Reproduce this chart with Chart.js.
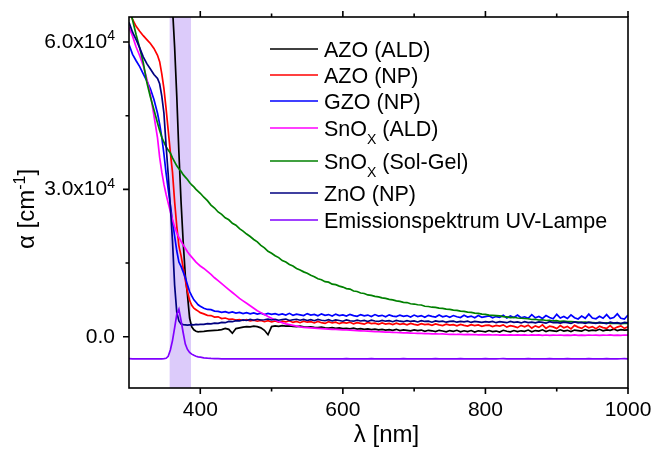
<!DOCTYPE html>
<html>
<head>
<meta charset="utf-8">
<title>Absorptionskoeffizient</title>
<script src="https://cdn.jsdelivr.net/npm/chart.js@4.4.1/dist/chart.umd.min.js"></script>
<style>
  html, body { margin: 0; padding: 0; background: #fff; }
  canvas { display: block; }
</style>
</head>
<body>
<canvas id="chart" width="653" height="453"></canvas>
<script>
// wavelength grid in nm (finer around the absorption edge)
const wl = [
  300, 305, 310, 315, 320, 325, 330, 335, 340,
  343, 346, 349, 352, 355, 358, 361, 364, 367, 370,
  373, 376, 379, 382, 385, 388, 391, 394, 397, 400,
  405, 410, 415, 420, 425, 430, 435, 440, 445, 450,
  455, 460, 465, 470, 475, 480, 485, 490, 495, 500,
  505, 510, 515, 520, 525, 530, 535, 540, 545, 550,
  555, 560, 565, 570, 575, 580, 585, 590, 595, 600,
  605, 610, 615, 620, 625, 630, 635, 640, 645, 650,
  655, 660, 665, 670, 675, 680, 685, 690, 695, 700,
  705, 710, 715, 720, 725, 730, 735, 740, 745, 750,
  755, 760, 765, 770, 775, 780, 785, 790, 795, 800,
  805, 810, 815, 820, 825, 830, 835, 840, 845, 850,
  855, 860, 865, 870, 875, 880, 885, 890, 895, 900,
  905, 910, 915, 920, 925, 930, 935, 940, 945, 950,
  955, 960, 965, 970, 975, 980, 985, 990, 995, 1000
];

// absorption coefficient alpha in cm^-1
const azoAld = [
  95000, 95000, 94000, 94000, 93000, 93000, 92000, 92000, 91000,
  90000, 88000, 86000, 84000, 80500, 75000, 67000, 59000, 49000, 37500,
  27500, 19300, 12500, 8500, 3800, 2000, 1400, 1100, 1000, 1050,
  1100, 1200, 1250, 1300, 1350, 1450, 1700, 1500, 700, 1650,
  1800, 1950, 2050, 2000, 2150, 2050, 1800, 1300, 400, 2050,
  2200, 2100, 2250, 2150, 2200, 2100, 2050, 2150, 2000, 1950,
  2000, 1900, 1850, 1950, 1800, 1750, 1850, 1700, 1800, 1650,
  1700, 1600, 1750, 1550, 1650, 1500, 1600, 1450, 1550, 1400,
  1500, 1350, 1450, 1300, 1500, 1250, 1400, 1300, 1200, 1400,
  1250, 1350, 1100, 1300, 1200, 1050, 1300, 1150, 1000, 1250,
  1100, 1300, 1000, 1200, 1050, 1250, 950, 1200, 1100, 1000,
  1250, 1050, 1150, 950, 1300, 1100, 1000, 1250, 1050, 1200,
  1100, 1350, 1000, 1250, 1150, 1400, 1050, 1300, 1200, 1100,
  1400, 1150, 1300, 1050, 1350, 1250, 1150, 1450, 1200, 1350,
  1250, 1500, 1200, 1400, 1300, 1550, 1250, 1450, 1350, 1400
];

const azoNp = [
  66500, 64600, 63200, 62200, 61300, 60500, 59700, 58700, 57300,
  56000, 53500, 50500, 46500, 42000, 37500, 33500, 27500, 22500, 18500,
  16500, 14000, 11500, 9200, 7400, 6400, 5800, 5500, 5200, 4900,
  4650, 4350, 4300, 4000, 4050, 3700, 3800, 3550, 3600, 3400,
  3500, 3300, 3450, 3200, 3350, 3150, 3300, 3050, 3250, 3000,
  3200, 2950, 3150, 3000, 3250, 2900, 3100, 2850, 3150, 2950,
  3050, 2800, 3100, 2850, 2700, 3050, 2800, 2950, 2650, 2900,
  2750, 2950, 2600, 2850, 2700, 2550, 2900, 2650, 2750, 2500,
  2800, 2550, 2700, 2450, 2750, 2500, 2650, 2400, 2700, 2500,
  2350, 2650, 2450, 2550, 2300, 2600, 2400, 2250, 2550, 2350,
  2450, 2200, 2500, 2300, 2150, 2450, 2250, 2400, 2100, 2300,
  2350, 2050, 2300, 2150, 2400, 1950, 2250, 2100, 1850, 2300,
  2000, 2350, 1750, 2200, 1900, 2400, 1700, 2150, 2000, 1650,
  2250, 1800, 2100, 1600, 2300, 1950, 1700, 2200, 1800, 2050,
  1600, 2150, 1850, 1700, 2250, 1600, 1950, 2200, 1700, 2000
];

const gzoNp = [
  59500, 57500, 56200, 55000, 53500, 52100, 50500, 48300, 45500,
  43300, 40600, 37200, 33300, 30000, 26800, 23500, 20500, 17500, 15200,
  14300, 13200, 12000, 10600, 9200, 8300, 7500, 7000, 6500, 6200,
  5800, 5550, 5500, 5200, 5150, 4950, 5100, 4850, 5050, 4800,
  4950, 4700, 4900, 4650, 4850, 4600, 4800, 4500, 4750, 4550,
  4700, 4450, 4650, 4400, 4750, 4350, 4600, 4450, 4300, 4700,
  4400, 4550, 4250, 4650, 4350, 4500, 4200, 4600, 4300, 4450,
  4200, 4550, 4300, 4150, 4500, 4250, 4400, 4100, 4500, 4200,
  4350, 4050, 4450, 4200, 4100, 4400, 4150, 4300, 4000, 4400,
  4100, 4300, 3950, 4350, 4150, 4000, 4400, 4050, 4250, 3950,
  4300, 4050, 3900, 4350, 4000, 4200, 3850, 4300, 3950, 4100,
  4250, 3850, 4100, 3950, 4350, 3800, 4200, 3900, 4400, 3850,
  4050, 3750, 4500, 3850, 4100, 3700, 4300, 3900, 3650, 4550,
  3800, 4100, 3700, 4450, 3850, 3600, 4200, 3750, 4600, 3800,
  3650, 4150, 3750, 4500, 3700, 3900, 4650, 3750, 3600, 4400
];

const snoxAld = [
  63000, 61200, 59000, 57200, 55200, 52500, 49400, 45000, 40500,
  36500, 33500, 31000, 29000, 27200, 25500, 23800, 22400, 21200, 20200,
  19400, 18700, 18000, 17300, 16700, 16200, 15700, 15200, 14800, 14400,
  13900, 13300, 12700, 12000, 11400, 10800, 10200, 9600, 9000, 8400,
  7800, 7300, 6800, 6300, 5800, 5300, 4900, 4500, 4100, 3750,
  3400, 3100, 2850, 2600, 2450, 2300, 2150, 2000, 1900, 1850,
  1800, 1750, 1700, 1650, 1600, 1550, 1500, 1470, 1430, 1400,
  1360, 1320, 1280, 1240, 1200, 1160, 1120, 1080, 1040, 1000,
  970, 940, 910, 880, 850, 820, 790, 760, 730, 700,
  670, 690, 630, 640, 590, 600, 550, 570, 500, 480,
  500, 450, 480, 420, 460, 400, 440, 380, 420, 360,
  400, 340, 390, 330, 380, 320, 370, 300, 360, 310,
  370, 290, 350, 300, 360, 280, 340, 270, 330, 290,
  340, 270, 320, 280, 350, 260, 310, 270, 340, 290,
  330, 260, 320, 290, 350, 270, 330, 280, 340, 300
];

const snoxSolGel = [
  67500, 64500, 61500, 58800, 55800, 51800, 48800, 46200, 43500,
  42000, 40600, 39600, 38700, 38000, 37400, 36400, 35600, 34800, 34200,
  33700, 33000, 32500, 32000, 31400, 30900, 30500, 30000, 29600, 29200,
  28400, 27700, 26800, 26200, 25400, 24900, 24200, 23800, 23100, 22700,
  22000, 21500, 20900, 20400, 19800, 19300, 18600, 18100, 17400, 17000,
  16500, 16100, 15500, 15200, 14700, 14400, 13900, 13600, 13200, 12900,
  12500, 12200, 11800, 11600, 11200, 11100, 10700, 10600, 10300, 10100,
  9800, 9700, 9300, 9200, 8900, 8800, 8500, 8400, 8200, 8100,
  7900, 7800, 7600, 7500, 7300, 7200, 7000, 6950, 6700, 6650,
  6500, 6450, 6200, 6150, 6000, 5950, 5800, 5750, 5600, 5550,
  5400, 5350, 5200, 5150, 5000, 4950, 4800, 4750, 4600, 4550,
  4400, 4350, 4300, 4250, 4100, 4050, 3900, 3950, 3800, 3750,
  3700, 3650, 3500, 3550, 3400, 3450, 3300, 3350, 3200, 3250,
  3100, 3150, 3050, 3050, 3000, 2950, 2900, 2950, 2850, 2850,
  2800, 2850, 2750, 2800, 2700, 2750, 2700, 2650, 2700, 2700
];

const znoNp = [
  64000, 62000, 60500, 58800, 57000, 55600, 54500, 53400, 52600,
  51500, 49000, 45500, 39000, 33000, 26500, 19500, 10500, 5000, 3200,
  2600, 2450, 2400, 2350, 2400, 2450, 2400, 2500, 2450, 2500,
  2500, 2650, 2600, 2750, 2700, 2900, 2850, 3100, 3050, 3250,
  3200, 3400, 3300, 3500, 3350, 3550, 3400, 3450, 3600, 3400,
  3550, 3350, 3500, 3600, 3300, 3450, 3550, 3350, 3500, 3300,
  3450, 3250, 3500, 3350, 3250, 3450, 3200, 3400, 3300, 3150,
  3400, 3250, 3150, 3350, 3200, 3300, 3100, 3350, 3200, 3100,
  3300, 3150, 3250, 3050, 3300, 3150, 3050, 3250, 3100, 3200,
  3000, 3250, 3100, 3150, 2950, 3200, 3050, 3150, 2950, 3100,
  3150, 2950, 3100, 3000, 3150, 2900, 3100, 3000, 2900, 3050,
  2950, 3100, 2850, 3050, 2950, 2850, 3100, 2900, 3000, 2800,
  3050, 2850, 2950, 2800, 3000, 2900, 2750, 3050, 2850, 2900,
  2750, 2950, 2850, 2700, 3000, 2800, 2900, 2700, 2950, 2800,
  2700, 2900, 2800, 2650, 2950, 2750, 2850, 2650, 2900, 2800
];

// lamp emission, offset below zero
const uvLamp = [
  -4480, -4500, -4490, -4500, -4500, -4490, -4500, -4500, -4490,
  -4500, -4500, -4480, -4400, -4000, -2700, -800, 1800, 4500, 5600,
  3300, 800, -1500, -2600, -3200, -3550, -3800, -3980, -4100, -4180,
  -4300, -4380, -4430, -4460, -4480, -4500, -4490, -4500, -4500, -4490,
  -4500, -4500, -4490, -4500, -4500, -4500, -4490, -4500, -4500, -4500,
  -4500, -4490, -4500, -4500, -4500, -4500, -4500, -4490, -4500, -4500,
  -4500, -4500, -4500, -4490, -4500, -4500, -4500, -4500, -4490, -4500,
  -4450, -4500, -4500, -4500, -4490, -4500, -4500, -4450, -4500, -4500,
  -4500, -4500, -4490, -4500, -4500, -4500, -4450, -4500, -4500, -4500,
  -4500, -4490, -4500, -4500, -4500, -4450, -4500, -4500, -4490, -4500,
  -4500, -4500, -4450, -4500, -4500, -4500, -4490, -4500, -4500, -4450,
  -4500, -4500, -4500, -4490, -4450, -4500, -4500, -4500, -4500, -4490,
  -4500, -4450, -4500, -4500, -4490, -4500, -4500, -4450, -4500, -4500,
  -4500, -4500, -4450, -4500, -4500, -4490, -4500, -4500, -4450, -4500,
  -4500, -4490, -4500, -4450, -4500, -4500, -4500, -4490, -4450, -4500
];

const seriesNames = [
  'AZO (ALD)', 'AZO (NP)', 'GZO (NP)', 'SnO_{X} (ALD)',
  'SnO_{X} (Sol-Gel)', 'ZnO (NP)', 'Emissionspektrum UV-Lampe'
];
const seriesColors = ['#000000', '#ff0000', '#0000ff', '#ff00ff', '#008000', '#000080', '#8000ff'];
const seriesValues = [azoAld, azoNp, gzoNp, snoxAld, snoxSolGel, znoNp, uvLamp];

// spectral range of the UV lamp (nm)
const lampBand = [357, 387];

const xTicks = [400, 600, 800, 1000];
const xTickLabels = ['400', '600', '800', '1000'];
const xMinorTicks = [500, 700, 900];
const yTicks = [0, 30000, 60000];
const yTickLabels = ['0.0', '3.0x10^{4}', '6.0x10^{4}'];
const yMinorTicks = [15000, 45000];

const FONT = '"Liberation Sans", Arial, sans-serif';

// draws text with ^{..} superscripts and _{..} subscripts
function drawRich(ctx, text, x, y, size, align) {
  const runs = [];
  const re = /([\^_])\{([^}]*)\}/g;
  let last = 0, m;
  while ((m = re.exec(text))) {
    if (m.index > last) runs.push({ t: text.slice(last, m.index), k: '' });
    runs.push({ t: m[2], k: m[1] });
    last = re.lastIndex;
  }
  if (last < text.length) runs.push({ t: text.slice(last), k: '' });

  const small = Math.round(size * 0.65);
  let total = 0;
  runs.forEach(r => {
    ctx.font = `${r.k ? small : size}px ${FONT}`;
    r.w = ctx.measureText(r.t).width;
    total += r.w;
  });
  let cx = align === 'right' ? x - total : align === 'center' ? x - total / 2 : x;
  ctx.textAlign = 'left';
  ctx.textBaseline = 'alphabetic';
  runs.forEach(r => {
    ctx.font = `${r.k ? small : size}px ${FONT}`;
    const dy = r.k === '^' ? -size * 0.36 : r.k === '_' ? size * 0.38 : 0;
    ctx.fillText(r.t, cx, y + dy);
    cx += r.w;
  });
}

const framePlugin = {
  id: 'frame',
  beforeDatasetsDraw(chart) {
    const { ctx, chartArea: a, scales: { x } } = chart;
    const x0 = x.getPixelForValue(lampBand[0]);
    const x1 = x.getPixelForValue(lampBand[1]);
    ctx.save();
    ctx.fillStyle = '#dccbfa';
    ctx.fillRect(x0, a.top, x1 - x0, a.bottom - a.top);
    ctx.restore();
  },
  afterDraw(chart) {
    const { ctx, chartArea: a, scales: { x, y } } = chart;
    ctx.save();
    ctx.strokeStyle = '#000';
    ctx.fillStyle = '#000';
    ctx.lineWidth = 1.6;
    ctx.strokeRect(a.left, a.top, a.right - a.left, a.bottom - a.top);

    // ticks point outward on bottom, top and left
    ctx.beginPath();
    const tickX = (v, len) => {
      const px = x.getPixelForValue(v);
      ctx.moveTo(px, a.bottom); ctx.lineTo(px, a.bottom + len);
      ctx.moveTo(px, a.top); ctx.lineTo(px, a.top - len);
    };
    xTicks.forEach(v => tickX(v, 6));
    xMinorTicks.forEach(v => tickX(v, 3.5));
    const tickY = (v, len) => {
      const py = y.getPixelForValue(v);
      ctx.moveTo(a.left, py); ctx.lineTo(a.left - len, py);
    };
    yTicks.forEach(v => tickY(v, 6));
    yMinorTicks.forEach(v => tickY(v, 3.5));
    ctx.stroke();

    xTicks.forEach((v, i) => drawRich(ctx, xTickLabels[i], x.getPixelForValue(v), a.bottom + 28, 21, 'center'));
    yTicks.forEach((v, i) => drawRich(ctx, yTickLabels[i], a.left - 14, y.getPixelForValue(v) + 6, 21, 'right'));

    // axis titles
    drawRich(ctx, '\u03bb [nm]', (a.left + a.right) / 2 + 8, 442, 24, 'center');
    ctx.save();
    ctx.translate(34, 209);
    ctx.rotate(-Math.PI / 2);
    drawRich(ctx, '\u03b1 [cm^{-1}]', 0, 0, 24, 'center');
    ctx.restore();

    // legend
    const rows = [49, 75, 101, 128, 161, 193, 220];
    seriesNames.forEach((name, i) => {
      ctx.strokeStyle = seriesColors[i];
      ctx.lineWidth = 1.6;
      ctx.beginPath();
      ctx.moveTo(270, rows[i]);
      ctx.lineTo(318, rows[i]);
      ctx.stroke();
      ctx.fillStyle = '#000';
      drawRich(ctx, name, 324, rows[i] + 7.5, 21.5, 'left');
    });
    ctx.restore();
  }
};

new Chart(document.getElementById('chart'), {
  type: 'line',
  data: {
    datasets: seriesValues.map((vals, i) => ({
      label: seriesNames[i],
      data: wl.map((w, j) => ({ x: w, y: vals[j] })),
      borderColor: seriesColors[i],
      borderWidth: 1.7,
      pointRadius: 0,
      tension: 0,
      fill: false,
      clip: 0,
      order: seriesValues.length - 1 - i
    }))
  },
  options: {
    responsive: false,
    animation: false,
    devicePixelRatio: 1,
    layout: { padding: { left: 129, right: 25, top: 17, bottom: 65 } },
    scales: {
      x: { type: 'linear', min: 300, max: 1000, display: false },
      y: { type: 'linear', min: -10450, max: 65100, display: false }
    },
    plugins: {
      legend: { display: false },
      tooltip: { enabled: false }
    }
  },
  plugins: [framePlugin]
});
</script>
</body>
</html>
